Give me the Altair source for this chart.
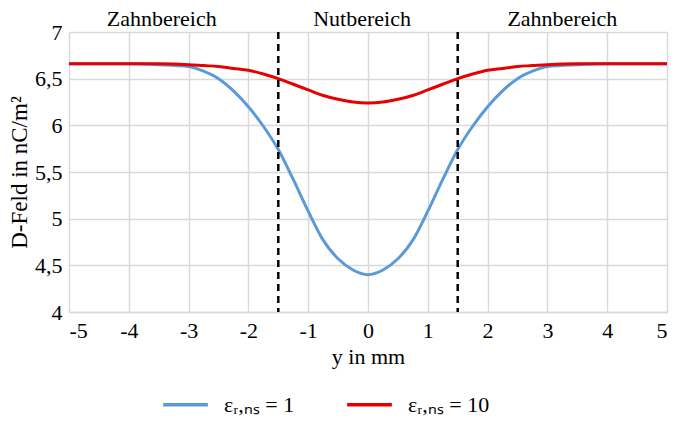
import altair as alt
import pandas as pd

y_mm = [-5, -4.5, -4, -3.5, -3, -2.75, -2.5, -2.25, -2, -1.75, -1.5, -1.25, -1, -0.75, -0.5, -0.25, 0,
        0.25, 0.5, 0.75, 1, 1.25, 1.5, 1.75, 2, 2.25, 2.5, 2.75, 3, 3.5, 4, 4.5, 5]
d_eps1 = [6.66, 6.66, 6.66, 6.65, 6.63, 6.58, 6.50, 6.37, 6.20, 5.99, 5.74, 5.42, 5.08, 4.77, 4.57, 4.45, 4.40,
          4.45, 4.57, 4.77, 5.08, 5.42, 5.74, 5.99, 6.20, 6.37, 6.50, 6.58, 6.63, 6.65, 6.66, 6.66, 6.66]
d_eps10 = [6.66, 6.66, 6.66, 6.66, 6.65, 6.64, 6.63, 6.61, 6.59, 6.55, 6.50, 6.44, 6.38, 6.32, 6.28, 6.25, 6.24,
           6.25, 6.28, 6.32, 6.38, 6.44, 6.50, 6.55, 6.59, 6.61, 6.63, 6.64, 6.65, 6.66, 6.66, 6.66, 6.66]
series_names = ["εᵣ,ₙₛ = 1", "εᵣ,ₙₛ = 10"]
series_colors = ["#5b9bd5", "#e60000"]

boundaries = [-1.5, 1.5]
region_labels = ["Zahnbereich", "Nutbereich", "Zahnbereich"]
region_pos = [-3.45, -0.1, 3.25]

x_ticks = [-5, -4, -3, -2, -1, 0, 1, 2, 3, 4, 5]
y_ticks = [4, 4.5, 5, 5.5, 6, 6.5, 7]

rows = []
for x, a, b in zip(y_mm, d_eps1, d_eps10):
    rows.append({"y": x, "D": a, "Serie": series_names[0]})
    rows.append({"y": x, "D": b, "Serie": series_names[1]})
df = pd.DataFrame(rows)

FONT = "Liberation Serif"

xscale = alt.Scale(domain=[-5, 5], nice=False, zero=False)
yscale = alt.Scale(domain=[4, 7], nice=False, zero=False)

lines = alt.Chart(df).mark_line(interpolate="monotone", strokeWidth=3).encode(
    x=alt.X("y:Q", scale=xscale, title="y in mm",
            axis=alt.Axis(values=x_ticks, grid=True, ticks=False,
                          labelExpr="toString(datum.value)",
                          labelFont=FONT, labelFontSize=22,
                          titleFont=FONT, titleFontSize=22,
                          labelPadding=8, titlePadding=5)),
    y=alt.Y("D:Q", scale=yscale, title="D-Feld in nC/m²",
            axis=alt.Axis(values=y_ticks, grid=True, ticks=False, domain=False,
                          labelExpr="replace(format(datum.value, '.1~f'), '.', ',')",
                          labelFont=FONT, labelFontSize=22,
                          titleFont=FONT, titleFontSize=23,
                          labelPadding=7, titlePadding=3)),
    color=alt.Color("Serie:N",
                    scale=alt.Scale(domain=series_names, range=series_colors),
                    legend=alt.Legend(orient="none", legendX=92, legendY=348,
                                      direction="horizontal", title=None, symbolType="stroke",
                                      symbolSize=2000, symbolStrokeWidth=3.5,
                                      labelFontSize=22, labelFont=FONT, columnPadding=45,
                                      labelOffset=14)),
)

rules = alt.Chart(pd.DataFrame({"b": boundaries})).mark_rule(
    color="black", strokeWidth=2.5, strokeDash=[7, 5]
).encode(x=alt.X("b:Q", scale=xscale))

texts = alt.Chart(pd.DataFrame({"t": region_labels, "p": region_pos})).mark_text(
    font=FONT, fontSize=22, baseline="middle", align="center", color="black"
).encode(x=alt.X("p:Q", scale=xscale), y=alt.value(-13), text="t:N")

chart = alt.layer(lines, rules, texts).properties(
    width=598, height=280, padding=0
).configure_view(stroke=None).configure_axis(
    labelFont=FONT, titleFont=FONT, labelFontSize=22, titleFontSize=22,
    labelColor="black", titleColor="black", titleFontWeight="normal",
    gridColor="#d9d9d9", gridWidth=1.5, domainColor="#d9d9d9", domainWidth=1.5
)

chart.save("out.html", embed_options={"renderer": "svg", "actions": False})
